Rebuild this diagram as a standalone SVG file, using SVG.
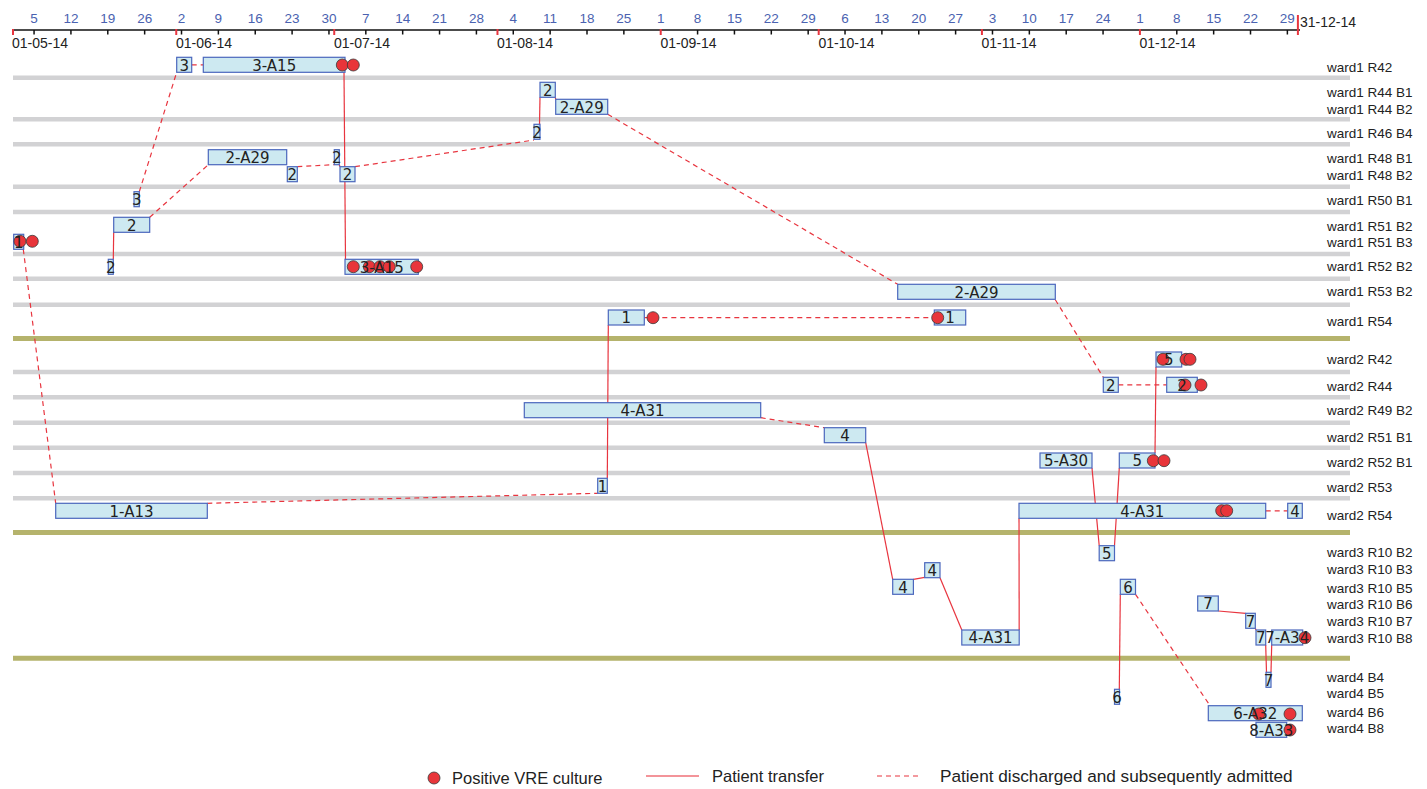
<svg xmlns="http://www.w3.org/2000/svg" width="1427" height="789" viewBox="0 0 1427 789">
<style>
.bar{fill:#cde9f1;stroke:#4b67bd;stroke-width:1.2}
.bl{font-family:"DejaVu Sans",sans-serif;font-size:15px;fill:#222;text-anchor:middle}
.wl{font-family:"Liberation Sans",Arial,sans-serif;font-size:13.5px;fill:#222}
.tl{font-family:"Liberation Sans",Arial,sans-serif;font-size:13.5px;fill:#4a62b0;text-anchor:middle}
.ml{font-family:"Liberation Sans",Arial,sans-serif;font-size:14px;fill:#222}
.lg{font-family:"Liberation Sans",Arial,sans-serif;font-size:16.5px;fill:#222}
.lg2{font-family:"Liberation Sans",Arial,sans-serif;font-size:17.2px;fill:#222}
.sep{stroke:#d2d2d4;stroke-width:4.5}
.wsep{stroke:#b5b36c;stroke-width:5}
.tr{stroke:#e8353f;stroke-width:1.2;fill:none}
.dc{stroke:#e8353f;stroke-width:1.2;stroke-dasharray:5 4;fill:none}
.vre{fill:#e8353a;stroke:#3a3a3a;stroke-width:0.8}
.tk{stroke:#111;stroke-width:1.5}
.mt{stroke:#e8353f;stroke-width:2}
</style>
<rect width="1427" height="789" fill="#fff"/>
<g id="axis">
<line x1="13" y1="30" x2="1300" y2="30" stroke="#111" stroke-width="1.6"/>
<g class="tk">
<line x1="34.06" y1="30" x2="34.06" y2="34.5"/><line x1="70.93" y1="30" x2="70.93" y2="34.5"/><line x1="107.79" y1="30" x2="107.79" y2="34.5"/><line x1="144.65" y1="30" x2="144.65" y2="34.5"/><line x1="181.51" y1="30" x2="181.51" y2="34.5"/><line x1="218.37" y1="30" x2="218.37" y2="34.5"/><line x1="255.24" y1="30" x2="255.24" y2="34.5"/><line x1="292.1" y1="30" x2="292.1" y2="34.5"/><line x1="328.96" y1="30" x2="328.96" y2="34.5"/><line x1="365.82" y1="30" x2="365.82" y2="34.5"/><line x1="402.68" y1="30" x2="402.68" y2="34.5"/><line x1="439.55" y1="30" x2="439.55" y2="34.5"/><line x1="476.41" y1="30" x2="476.41" y2="34.5"/><line x1="513.27" y1="30" x2="513.27" y2="34.5"/><line x1="550.13" y1="30" x2="550.13" y2="34.5"/><line x1="587" y1="30" x2="587" y2="34.5"/><line x1="623.86" y1="30" x2="623.86" y2="34.5"/><line x1="697.58" y1="30" x2="697.58" y2="34.5"/><line x1="734.44" y1="30" x2="734.44" y2="34.5"/><line x1="771.3" y1="30" x2="771.3" y2="34.5"/><line x1="808.17" y1="30" x2="808.17" y2="34.5"/><line x1="845.03" y1="30" x2="845.03" y2="34.5"/><line x1="881.89" y1="30" x2="881.89" y2="34.5"/><line x1="918.75" y1="30" x2="918.75" y2="34.5"/><line x1="955.61" y1="30" x2="955.61" y2="34.5"/><line x1="992.48" y1="30" x2="992.48" y2="34.5"/><line x1="1029.34" y1="30" x2="1029.34" y2="34.5"/><line x1="1066.2" y1="30" x2="1066.2" y2="34.5"/><line x1="1103.06" y1="30" x2="1103.06" y2="34.5"/><line x1="1176.79" y1="30" x2="1176.79" y2="34.5"/><line x1="1213.65" y1="30" x2="1213.65" y2="34.5"/><line x1="1250.51" y1="30" x2="1250.51" y2="34.5"/><line x1="1287.37" y1="30" x2="1287.37" y2="34.5"/>
</g>
<g class="mt">
<line x1="13" y1="29" x2="13" y2="35"/><line x1="176.25" y1="29" x2="176.25" y2="35"/><line x1="334.23" y1="29" x2="334.23" y2="35"/><line x1="497.47" y1="29" x2="497.47" y2="35"/><line x1="660.72" y1="29" x2="660.72" y2="35"/><line x1="818.7" y1="29" x2="818.7" y2="35"/><line x1="981.94" y1="29" x2="981.94" y2="35"/><line x1="1139.92" y1="29" x2="1139.92" y2="35"/><line x1="1297.9" y1="15" x2="1297.9" y2="35"/>
</g>
<g class="tl">
<text x="34.06" y="23">5</text><text x="70.93" y="23">12</text><text x="107.79" y="23">19</text><text x="144.65" y="23">26</text><text x="181.51" y="23">2</text><text x="218.37" y="23">9</text><text x="255.24" y="23">16</text><text x="292.1" y="23">23</text><text x="328.96" y="23">30</text><text x="365.82" y="23">7</text><text x="402.68" y="23">14</text><text x="439.55" y="23">21</text><text x="476.41" y="23">28</text><text x="513.27" y="23">4</text><text x="550.13" y="23">11</text><text x="587" y="23">18</text><text x="623.86" y="23">25</text><text x="660.72" y="23">1</text><text x="697.58" y="23">8</text><text x="734.44" y="23">15</text><text x="771.3" y="23">22</text><text x="808.17" y="23">29</text><text x="845.03" y="23">6</text><text x="881.89" y="23">13</text><text x="918.75" y="23">20</text><text x="955.61" y="23">27</text><text x="992.48" y="23">3</text><text x="1029.34" y="23">10</text><text x="1066.2" y="23">17</text><text x="1103.06" y="23">24</text><text x="1139.92" y="23">1</text><text x="1176.79" y="23">8</text><text x="1213.65" y="23">15</text><text x="1250.51" y="23">22</text><text x="1287.37" y="23">29</text>
</g>
<g class="ml">
<text x="12" y="47.5">01-05-14</text><text x="176" y="47.5">01-06-14</text><text x="334" y="47.5">01-07-14</text><text x="497" y="47.5">01-08-14</text><text x="660.5" y="47.5">01-09-14</text><text x="818.5" y="47.5">01-10-14</text><text x="981.5" y="47.5">01-11-14</text><text x="1139.5" y="47.5">01-12-14</text><text x="1300" y="27">31-12-14</text>
</g>
</g>
<g id="bands">
<g class="sep">
<line x1="13" y1="77.7" x2="1350" y2="77.7"/><line x1="13" y1="119.3" x2="1350" y2="119.3"/><line x1="13" y1="144.3" x2="1350" y2="144.3"/><line x1="13" y1="186.7" x2="1350" y2="186.7"/><line x1="13" y1="212" x2="1350" y2="212"/><line x1="13" y1="254" x2="1350" y2="254"/><line x1="13" y1="278.8" x2="1350" y2="278.8"/><line x1="13" y1="304.7" x2="1350" y2="304.7"/>
<line x1="13" y1="372" x2="1350" y2="372"/><line x1="13" y1="397.3" x2="1350" y2="397.3"/><line x1="13" y1="422.7" x2="1350" y2="422.7"/><line x1="13" y1="447.7" x2="1350" y2="447.7"/><line x1="13" y1="473" x2="1350" y2="473"/><line x1="13" y1="498.3" x2="1350" y2="498.3"/>
</g>
<g class="wsep">
<line x1="13" y1="338.5" x2="1350" y2="338.5"/><line x1="13" y1="532.5" x2="1350" y2="532.5"/><line x1="13" y1="658.3" x2="1350" y2="658.3"/>
</g>
</g>
<g id="row-labels" class="wl">
<text x="1327" y="71.5">ward1 R42</text>
<text x="1327" y="96.5">ward1 R44 B1</text>
<text x="1327" y="114">ward1 R44 B2</text>
<text x="1327" y="138">ward1 R46 B4</text>
<text x="1327" y="163">ward1 R48 B1</text>
<text x="1327" y="180">ward1 R48 B2</text>
<text x="1327" y="205">ward1 R50 B1</text>
<text x="1327" y="230.5">ward1 R51 B2</text>
<text x="1327" y="247">ward1 R51 B3</text>
<text x="1327" y="270.5">ward1 R52 B2</text>
<text x="1327" y="295.5">ward1 R53 B2</text>
<text x="1327" y="325.5">ward1 R54</text>
<text x="1327" y="364">ward2 R42</text>
<text x="1327" y="390.5">ward2 R44</text>
<text x="1327" y="415">ward2 R49 B2</text>
<text x="1327" y="441.5">ward2 R51 B1</text>
<text x="1327" y="466.5">ward2 R52 B1</text>
<text x="1327" y="492">ward2 R53</text>
<text x="1327" y="520">ward2 R54</text>
<text x="1327" y="557.3">ward3 R10 B2</text>
<text x="1327" y="574">ward3 R10 B3</text>
<text x="1327" y="592.5">ward3 R10 B5</text>
<text x="1327" y="609.3">ward3 R10 B6</text>
<text x="1327" y="626">ward3 R10 B7</text>
<text x="1327" y="643.3">ward3 R10 B8</text>
<text x="1327" y="681.7">ward4 B4</text>
<text x="1327" y="698.3">ward4 B5</text>
<text x="1327" y="717.3">ward4 B6</text>
<text x="1327" y="733.3">ward4 B8</text>
</g>
<g id="connectors">
<g class="tr">
<line x1="344" y1="72.3" x2="345.5" y2="259.3"/>
<line x1="113.3" y1="259.3" x2="113.7" y2="232.3"/>
<line x1="339.3" y1="164.7" x2="340" y2="166.7"/>
<line x1="539.5" y1="124.3" x2="540" y2="97.3"/>
<line x1="555.3" y1="97.3" x2="555.7" y2="99.3"/>
<line x1="607.3" y1="478.3" x2="608.3" y2="325"/>
<line x1="865.7" y1="442.7" x2="892.7" y2="579.3"/>
<line x1="913.4" y1="579.3" x2="924.7" y2="577.3"/>
<line x1="940" y1="577.7" x2="961.8" y2="630"/>
<line x1="1019.2" y1="630" x2="1019" y2="518.3"/>
<line x1="1092" y1="468" x2="1099.2" y2="545.7"/>
<line x1="1114.5" y1="545.7" x2="1119.3" y2="468"/>
<line x1="1155" y1="453" x2="1156" y2="367"/>
<line x1="1119.3" y1="689.3" x2="1120.3" y2="594.3"/>
<line x1="1218.3" y1="611" x2="1245.7" y2="613.3"/>
<line x1="1255.3" y1="628.3" x2="1256" y2="630"/>
<line x1="1265.7" y1="645" x2="1266.5" y2="672.3"/>
<line x1="1271" y1="672.3" x2="1271.7" y2="645"/>
</g>
<g class="dc">
<line x1="191.7" y1="64.8" x2="203.3" y2="64.8"/>
<line x1="139.3" y1="191.7" x2="176.7" y2="72.3"/>
<line x1="149.7" y1="217.3" x2="208.3" y2="164.7"/>
<line x1="297.3" y1="166.7" x2="334.3" y2="164.7"/>
<line x1="355" y1="166.7" x2="534" y2="140"/>
<line x1="607.7" y1="114.3" x2="897.7" y2="284.3"/>
<line x1="1055.3" y1="299.7" x2="1103.3" y2="377.3"/>
<line x1="1118.3" y1="384.8" x2="1166.7" y2="384.8"/>
<line x1="23.3" y1="249.3" x2="55.7" y2="503.3"/>
<line x1="207.3" y1="503.3" x2="597.7" y2="493.3"/>
<line x1="644.3" y1="317.7" x2="934.3" y2="317.7"/>
<line x1="760.7" y1="417.7" x2="824.3" y2="427.7"/>
<line x1="1265.7" y1="510.8" x2="1287.7" y2="510.8"/>
<line x1="1135.5" y1="594.3" x2="1210" y2="705.7"/>
</g>
</g>
<g id="nodes">
<g id="n1"><rect class="bar" x="176.7" y="57.3" width="15" height="15"/><text class="bl" x="184.2" y="70.7">3</text></g>
<g id="n2"><rect class="bar" x="203.3" y="57.3" width="141.7" height="15"/><circle class="vre" cx="342.3" cy="65" r="6"/><circle class="vre" cx="353.3" cy="65" r="6"/><text class="bl" x="274.2" y="70.7">3-A15</text></g>
<g id="n3"><rect class="bar" x="540" y="82.3" width="15.3" height="15"/><text class="bl" x="547.7" y="95.7">2</text></g>
<g id="n4"><rect class="bar" x="555.7" y="99.3" width="52" height="15"/><text class="bl" x="581.7" y="112.7">2-A29</text></g>
<g id="n5"><rect class="bar" x="534" y="124.3" width="6" height="15"/><text class="bl" x="537" y="137.7">2</text></g>
<g id="n6"><rect class="bar" x="208.3" y="149.7" width="78.4" height="15"/><text class="bl" x="247.5" y="163.1">2-A29</text></g>
<g id="n7"><rect class="bar" x="334.3" y="149.7" width="5" height="15"/><text class="bl" x="336.8" y="163.1">2</text></g>
<g id="n8"><rect class="bar" x="287.3" y="166.7" width="10" height="15"/><text class="bl" x="292.3" y="180.1">2</text></g>
<g id="n9"><rect class="bar" x="340" y="166.7" width="15" height="15"/><text class="bl" x="347.5" y="180.1">2</text></g>
<g id="n10"><rect class="bar" x="134" y="191.7" width="5.3" height="15"/><text class="bl" x="136.7" y="205.1">3</text></g>
<g id="n11"><rect class="bar" x="113.7" y="217.3" width="36" height="15"/><text class="bl" x="131.7" y="230.7">2</text></g>
<g id="n12"><rect class="bar" x="13.7" y="234.3" width="10" height="15"/><circle class="vre" cx="20" cy="241.3" r="6"/><circle class="vre" cx="32.3" cy="241.3" r="6"/><text class="bl" x="18.7" y="247.7">1</text></g>
<g id="n13"><rect class="bar" x="108.3" y="259.3" width="5" height="15"/><text class="bl" x="110.8" y="272.7">2</text></g>
<g id="n14"><rect class="bar" x="345" y="259.3" width="73.3" height="15"/><circle class="vre" cx="353.3" cy="266.7" r="6"/><circle class="vre" cx="369.3" cy="266.7" r="6"/><circle class="vre" cx="380" cy="266.7" r="6"/><circle class="vre" cx="389.3" cy="266.7" r="6"/><circle class="vre" cx="416.7" cy="266.7" r="6"/><text class="bl" x="381.7" y="272.7">3-A15</text></g>
<g id="n15"><rect class="bar" x="897.7" y="284.3" width="157.6" height="15"/><text class="bl" x="976.5" y="297.7">2-A29</text></g>
<g id="n16"><rect class="bar" x="608.3" y="310" width="36" height="15"/><circle class="vre" cx="653" cy="317.7" r="6"/><text class="bl" x="626.3" y="323.4">1</text></g>
<g id="n17"><rect class="bar" x="934.3" y="310" width="31.4" height="15"/><circle class="vre" cx="937.7" cy="317.7" r="6"/><text class="bl" x="950" y="323.4">1</text></g>
<g id="n18"><rect class="bar" x="1156" y="352" width="25.7" height="15"/><circle class="vre" cx="1163" cy="359.3" r="6"/><circle class="vre" cx="1186" cy="359.3" r="6"/><circle class="vre" cx="1190" cy="359.3" r="6"/><text class="bl" x="1168.8" y="365.4">5</text></g>
<g id="n19"><rect class="bar" x="1103.3" y="377.3" width="15" height="15"/><text class="bl" x="1110.8" y="390.7">2</text></g>
<g id="n20"><rect class="bar" x="1166.7" y="377.3" width="30.6" height="15"/><circle class="vre" cx="1185" cy="385" r="6"/><circle class="vre" cx="1201" cy="385" r="6"/><text class="bl" x="1182" y="390.7">2</text></g>
<g id="n21"><rect class="bar" x="524.3" y="402.7" width="236.4" height="15"/><text class="bl" x="642.5" y="416.1">4-A31</text></g>
<g id="n22"><rect class="bar" x="824.3" y="427.7" width="41.4" height="15"/><text class="bl" x="845" y="441.1">4</text></g>
<g id="n23"><rect class="bar" x="1040" y="453" width="52" height="15"/><text class="bl" x="1066" y="466.4">5-A30</text></g>
<g id="n24"><rect class="bar" x="1119.3" y="453" width="35.7" height="15"/><circle class="vre" cx="1153.3" cy="460.7" r="6"/><circle class="vre" cx="1164" cy="460.7" r="6"/><text class="bl" x="1137.2" y="466.4">5</text></g>
<g id="n25"><rect class="bar" x="597.7" y="478.3" width="9.6" height="15"/><text class="bl" x="602.5" y="491.7">1</text></g>
<g id="n26"><rect class="bar" x="55.7" y="503.3" width="151.6" height="15"/><text class="bl" x="131.5" y="516.7">1-A13</text></g>
<g id="n27"><rect class="bar" x="1019" y="503.3" width="246.7" height="15"/><circle class="vre" cx="1221.7" cy="510.7" r="6"/><circle class="vre" cx="1226.7" cy="510.7" r="6"/><text class="bl" x="1142.3" y="516.7">4-A31</text></g>
<g id="n28"><rect class="bar" x="1287.7" y="503.3" width="14.6" height="15"/><text class="bl" x="1295" y="516.7">4</text></g>
<g id="n29"><rect class="bar" x="1099.2" y="545.7" width="15.3" height="15"/><text class="bl" x="1106.8" y="559.1">5</text></g>
<g id="n30"><rect class="bar" x="924.7" y="562.7" width="15.3" height="15"/><text class="bl" x="932.3" y="576.1">4</text></g>
<g id="n31"><rect class="bar" x="892.7" y="579.3" width="20.7" height="15"/><text class="bl" x="903" y="592.7">4</text></g>
<g id="n32"><rect class="bar" x="1120.3" y="579.3" width="15.2" height="15"/><text class="bl" x="1127.9" y="592.7">6</text></g>
<g id="n33"><rect class="bar" x="1197.7" y="596" width="20.6" height="15"/><text class="bl" x="1208" y="609.4">7</text></g>
<g id="n34"><rect class="bar" x="1245.7" y="613.3" width="9.6" height="15"/><text class="bl" x="1250.5" y="626.7">7</text></g>
<g id="n35"><rect class="bar" x="961.8" y="630" width="57.4" height="15"/><text class="bl" x="990.5" y="643.4">4-A31</text></g>
<g id="n36"><rect class="bar" x="1256" y="630" width="9.7" height="15"/><text class="bl" x="1260.8" y="643.4">7</text></g>
<g id="n37"><rect class="bar" x="1271.7" y="630" width="31" height="15"/><circle class="vre" cx="1305" cy="637.7" r="6"/><text class="bl" x="1287.2" y="643.4">7-A34</text></g>
<g id="n38"><rect class="bar" x="1266" y="672.3" width="5" height="15"/><text class="bl" x="1268.5" y="685.7">7</text></g>
<g id="n39"><rect class="bar" x="1114.5" y="689.3" width="5" height="15"/><text class="bl" x="1117" y="702.7">6</text></g>
<g id="n40"><rect class="bar" x="1208.3" y="705.7" width="94" height="15"/><circle class="vre" cx="1258.7" cy="714" r="6"/><circle class="vre" cx="1290" cy="714" r="6"/><text class="bl" x="1255.3" y="719.1">6-A32</text></g>
<g id="n41"><rect class="bar" x="1256" y="722.3" width="30.7" height="15"/><circle class="vre" cx="1290" cy="730" r="6"/><text class="bl" x="1271.3" y="735.7">8-A33</text></g>
</g>
<g id="legend">
<circle class="vre" cx="434" cy="778" r="6"/>
<text class="lg" x="452" y="783.5">Positive VRE culture</text>
<line x1="646" y1="776" x2="699" y2="776" stroke="#e8353f" stroke-width="1.5" opacity="0.7"/>
<text class="lg" x="712" y="781.5">Patient transfer</text>
<line x1="877" y1="776" x2="922" y2="776" class="dc"/>
<text class="lg2" x="940" y="781.5">Patient discharged and subsequently admitted</text>
</g>
</svg>
